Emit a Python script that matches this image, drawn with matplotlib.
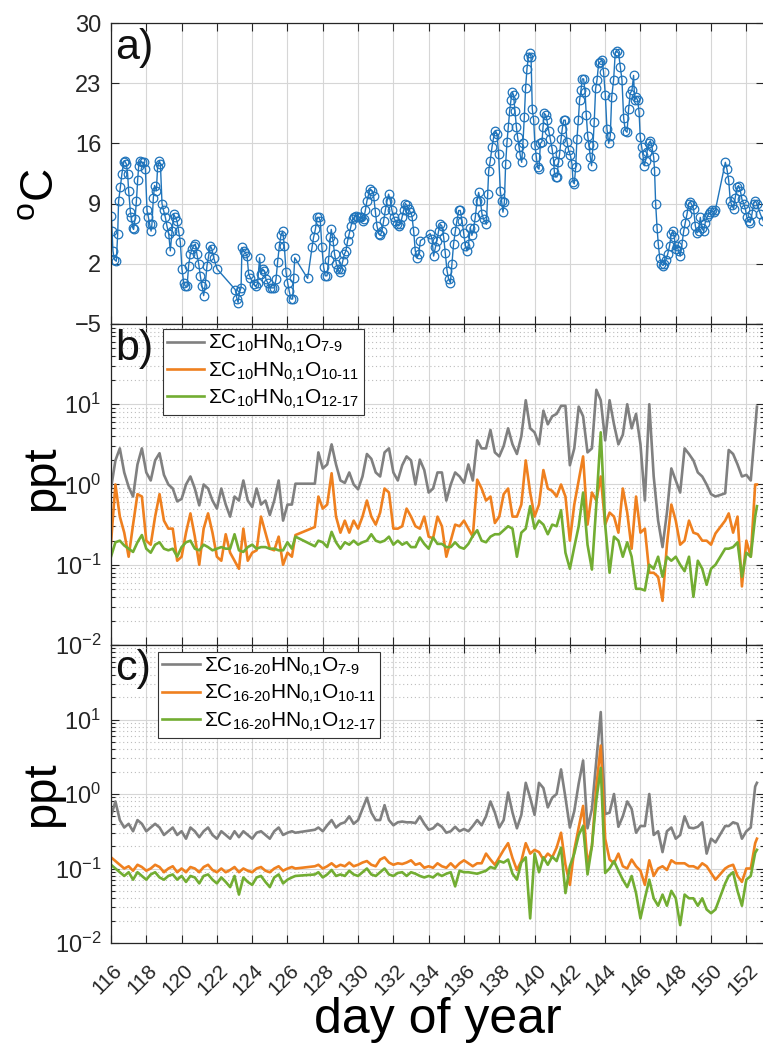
import numpy as np
import matplotlib
matplotlib.use('Agg')
import matplotlib.pyplot as plt
from matplotlib.transforms import ScaledTranslation

plt.rcParams['font.family'] = ['Liberation Sans', 'DejaVu Sans']
plt.rcParams['mathtext.fontset'] = 'custom'
plt.rcParams['mathtext.rm'] = 'Liberation Sans'
plt.rcParams['mathtext.it'] = 'Liberation Sans:italic'
plt.rcParams['mathtext.bf'] = 'Liberation Sans:bold'
plt.rcParams['mathtext.sf'] = 'Liberation Sans'

# ---------------- panel a: temperature ----------------
temp_day = [
    116.02, 116.06, 116.11, 116.19, 116.30, 116.38, 116.43, 116.53, 116.62, 116.72, 116.77, 116.87, 116.94,
    117.00, 117.10, 117.15, 117.23, 117.28, 117.36, 117.44, 117.51, 117.57, 117.66, 117.76, 117.85, 117.95,
    118.04, 118.12, 118.19, 118.27, 118.32, 118.40, 118.47, 118.57, 118.64, 118.74, 118.80, 118.89, 118.98,
    119.08, 119.17, 119.27, 119.36, 119.46, 119.55, 119.64, 119.74, 119.83, 119.93,
    120.02, 120.12, 120.21, 120.31, 120.40, 120.49, 120.59, 120.68, 120.78, 120.87, 120.97,
    121.06, 121.16, 121.25, 121.34, 121.44, 121.53, 121.63, 121.72, 121.82, 122.01,
    123.04, 123.14, 123.20, 123.29, 123.37, 123.42, 123.52, 123.61, 123.71, 123.80, 123.89,
    124.08, 124.23, 124.31, 124.42, 124.50, 124.59, 124.69, 124.78, 124.88, 124.99,
    125.12, 125.25, 125.35, 125.44, 125.54, 125.63, 125.73, 125.82, 125.92,
    126.01, 126.10, 126.20, 126.29, 126.35, 126.41, 127.14, 127.39, 127.48, 127.58, 127.67, 127.77, 127.86, 127.95,
    128.05, 128.14, 128.24, 128.33, 128.43, 128.48, 128.58, 128.67, 128.77, 128.86, 128.96,
    129.03, 129.13, 129.22, 129.31, 129.41, 129.50, 129.60, 129.69, 129.79, 129.88, 129.98,
    130.09, 130.18, 130.26, 130.32, 130.41, 130.50, 130.60, 130.69, 130.79, 130.88, 130.98,
    131.07, 131.17, 131.26, 131.35, 131.45, 131.54, 131.64, 131.73, 131.83, 131.92,
    132.02, 132.11, 132.20, 132.30, 132.39, 132.49, 132.58, 132.68, 132.77, 132.87, 132.96,
    133.05, 133.15, 133.24, 133.34, 133.43, 133.53,
    134.09, 134.19, 134.28, 134.38, 134.47, 134.56, 134.66, 134.75, 134.85, 134.94,
    135.04, 135.13, 135.23, 135.32, 135.41, 135.51, 135.60, 135.70, 135.79, 135.89, 135.98,
    136.08, 136.17, 136.26, 136.36, 136.45, 136.55, 136.64, 136.74, 136.83, 136.93,
    137.02, 137.11, 137.27, 137.34, 137.40, 137.49, 137.59, 137.68, 137.78, 137.87, 137.96,
    138.06, 138.13, 138.21, 138.29, 138.36, 138.44, 138.51, 138.59, 138.66, 138.74, 138.81, 138.89, 138.97,
    139.04, 139.12, 139.19, 139.27, 139.34, 139.42, 139.49, 139.57, 139.65, 139.72, 139.80, 139.87, 139.95,
    140.02, 140.10, 140.17, 140.25, 140.33, 140.42, 140.48, 140.55, 140.63, 140.70, 140.80, 140.89, 140.99,
    141.08, 141.12, 141.19, 141.27, 141.35, 141.42, 141.50, 141.57, 141.65, 141.74, 141.84, 141.93,
    142.03, 142.12, 142.18, 142.25, 142.33, 142.40, 142.48, 142.55, 142.63, 142.70, 142.78, 142.86, 142.93,
    143.01, 143.08, 143.16, 143.23, 143.31, 143.38, 143.46, 143.54, 143.63, 143.72, 143.82, 143.91,
    144.01, 144.10, 144.20, 144.29, 144.37, 144.48, 144.57, 144.67, 144.76, 144.86, 144.95,
    145.05, 145.14, 145.24, 145.33, 145.42, 145.52, 145.61, 145.67, 145.75, 145.84, 145.92, 145.99,
    146.07, 146.14, 146.22, 146.29, 146.37, 146.46, 146.56, 146.65, 146.75, 146.80, 146.86, 146.94,
    147.01, 147.09, 147.18, 147.28, 147.35, 147.45, 147.54, 147.65, 147.75, 147.84, 147.92, 147.99,
    148.07, 148.16, 148.26, 148.35, 148.45, 148.54, 148.64, 148.73, 148.82, 148.92,
    149.01, 149.11, 149.20, 149.30, 149.39, 149.48, 149.58, 149.67, 149.77, 149.86, 149.96,
    150.05, 150.15, 150.24, 150.81, 150.90,
    151.00, 151.09, 151.18, 151.28, 151.37, 151.47, 151.56, 151.66, 151.75, 151.85, 151.94,
    152.03, 152.13, 152.22, 152.32, 152.41, 152.50, 152.60, 152.79, 152.96,
]
temp_c = [
    7.6, 5.8, 3.5, 2.5, 2.3, 5.5, 9.3, 10.9, 12.5, 13.8, 14.0, 13.6, 12.5,
    10.5, 8.0, 7.4, 6.2, 6.0, 7.2, 9.3, 11.7, 13.4, 14.0, 13.8, 13.8, 13.0,
    8.2, 7.4, 6.6, 5.8, 6.6, 9.7, 11.1, 10.5, 13.2, 14.0, 13.6, 9.0, 8.2,
    7.4, 6.4, 5.5, 3.5, 5.8, 7.8, 7.4, 7.0, 5.8, 4.5,
    1.4, -0.2, -0.6, -0.6, 1.8, 3.1, 3.7, 4.1, 4.3, 3.1, 2.0,
    0.6, -0.6, -1.7, -0.4, 1.8, 2.9, 4.1, 3.7, 2.7, 1.4,
    -1.0, -2.1, -2.5, -1.2, -0.8, 3.9, 3.5, 3.3, 2.9, 0.8, 0.4,
    -0.4, -0.6, -0.2, 2.7, 0.8, 1.4, 1.2, 0.2, -0.2, -0.8,
    -0.8, -0.8, 0.2, 2.2, 4.1, 5.3, 5.8, 4.1, 1.0,
    -0.2, -1.2, -2.1, -2.1, 0.4, 2.7, 0.3, 3.9, 5.1, 6.0, 7.4, 7.4, 7.0, 3.9,
    1.6, 0.6, 0.6, 2.5, 5.1, 6.0, 4.7, 3.1, 2.0, 1.4, 1.0,
    1.4, 2.3, 3.1, 3.5, 4.7, 5.5, 6.4, 7.2, 7.4, 7.6, 7.5,
    7.4, 7.4, 7.0, 7.2, 8.2, 9.3, 10.1, 10.7, 10.5, 9.9, 8.0,
    6.4, 5.5, 5.3, 5.8, 7.0, 8.2, 9.3, 10.1, 9.3, 8.2,
    7.4, 7.0, 6.6, 6.4, 6.6, 7.4, 8.2, 9.0, 8.8, 8.4, 8.0,
    7.6, 5.8, 3.5, 2.7, 3.1, 4.7,
    5.5, 4.9, 2.9, 3.9, 4.7, 5.8, 6.6, 6.4, 5.1, 3.3,
    1.2, 0.2, -0.2, 2.0, 4.3, 5.8, 7.0, 8.2, 8.2, 7.0, 5.6,
    4.1, 3.5, 4.3, 6.2, 5.3, 6.2, 7.4, 9.3, 10.3, 9.3,
    7.8, 7.2, 6.6, 10.1, 12.8, 14.0, 15.6, 16.7, 17.5, 17.1, 14.8,
    10.5, 9.3, 8.0, 9.2, 13.6, 16.2, 17.9, 19.8, 21.0, 22.0, 21.6, 19.8, 17.9,
    16.7, 15.6, 14.6, 13.8, 16.0, 19.1, 22.4, 24.7, 26.1, 26.5, 26.1, 20.0, 18.7,
    15.8, 14.4, 13.2, 13.0, 16.0, 16.2, 17.9, 19.5, 19.3, 18.7, 17.5, 16.5, 15.4,
    14.0, 12.7, 12.1, 12.1, 13.8, 14.8, 16.5, 17.7, 18.7, 18.7, 16.2, 15.2,
    14.6, 13.6, 11.5, 11.3, 13.2, 16.5, 18.7, 21.0, 22.2, 23.5, 23.5, 22.0, 19.3,
    16.9, 15.8, 14.4, 13.4, 15.8, 18.5, 22.4, 23.4, 25.3, 25.5, 25.7, 24.3,
    21.6, 17.7, 16.0, 16.9, 21.4, 23.4, 26.5, 26.7, 26.5, 24.9, 23.4,
    18.9, 17.5, 17.3, 20.0, 21.8, 22.2, 23.9, 21.0, 21.4, 21.0, 19.7, 16.7,
    15.6, 14.6, 13.4, 14.0, 15.0, 16.0, 16.3, 15.6, 14.4, 12.8, 9.0, 6.2,
    4.3, 2.7, 2.0, 1.8, 2.0, 2.5, 3.1, 4.1, 5.5, 5.8, 5.1, 3.7,
    4.1, 3.5, 2.9, 4.3, 5.8, 6.8, 7.8, 9.0, 9.2, 8.8,
    8.4, 6.4, 5.6, 5.8, 7.4, 6.2, 5.8, 6.8, 7.4, 7.8, 8.0,
    8.2, 8.0, 8.2, 13.8, 13.0,
    11.7, 9.3, 8.8, 8.4, 9.7, 10.9, 11.1, 10.5, 9.5, 9.0, 8.4,
    7.4, 7.0, 6.8, 7.8, 9.0, 9.3, 9.0, 7.8, 7.0,
]

# ---------------- panels b and c: common time base ----------------
days_bc = [
    116.0, 116.25, 116.5, 116.75, 117.0, 117.25, 117.5, 117.75,
    118.0, 118.25, 118.5, 118.75, 119.0, 119.25, 119.5, 119.75,
    120.0, 120.25, 120.5, 120.75, 121.0, 121.25, 121.5, 121.75,
    122.0, 122.25, 122.5, 122.75, 123.0, 123.25, 123.5, 123.75,
    124.0, 124.25, 124.5, 124.75, 125.0, 125.25, 125.5, 125.75,
    126.0, 126.25, 126.45,
    127.55, 127.75,
    128.0, 128.25, 128.5, 128.75, 129.0, 129.25, 129.5, 129.75,
    130.0, 130.25, 130.5, 130.75, 131.0, 131.25, 131.5, 131.75,
    132.0, 132.25, 132.5, 132.75, 133.0, 133.25, 133.5, 133.75,
    134.0, 134.25, 134.5, 134.75, 135.0, 135.25, 135.5, 135.75,
    136.0, 136.25, 136.5, 136.75, 137.0, 137.25, 137.5, 137.75,
    138.0, 138.25, 138.5, 138.75, 139.0, 139.25, 139.5, 139.75,
    140.0, 140.25, 140.5, 140.75, 141.0, 141.25, 141.5, 141.75,
    142.0, 142.25, 142.5, 142.75, 143.0, 143.25, 143.5, 143.75,
    144.0, 144.25, 144.5, 144.75, 145.0, 145.25, 145.5, 145.75,
    146.0, 146.25, 146.5, 146.75, 147.0, 147.25, 147.5, 147.75,
    148.0, 148.25, 148.5, 148.75, 149.0, 149.25, 149.5, 149.75,
    150.0, 150.25, 150.8,
    151.0, 151.25, 151.5, 151.75, 152.0, 152.25, 152.5, 152.6,
]

# log10(ppt) values, panel b (C10)
b_gray_log10 = [
    -0.05, 0.30, 0.45, 0.15, -0.03, -0.15, 0.25, 0.45,
    0.15, 0.05, 0.30, 0.39, 0.12, 0.0, -0.05, -0.21,
    -0.18, 0.0, 0.10, -0.05, -0.26, 0.0, -0.05, -0.20,
    -0.30, -0.05, -0.25, -0.40, -0.15, -0.20, 0.05, -0.20,
    -0.28, -0.05, -0.25, -0.20, -0.38, -0.20, 0.05, -0.45,
    -0.25, -0.25, 0.01,
    0.01, 0.40,
    0.20, 0.25, 0.50, 0.25, 0.05, 0.02, 0.15, 0.0,
    -0.06, 0.10, 0.38, 0.32, 0.15, 0.10, 0.40, 0.45,
    0.15, 0.05, 0.24, 0.35, 0.30, 0.0, 0.31, 0.18,
    -0.10, -0.05, 0.15, 0.15, -0.20, 0.0, 0.15, 0.10,
    0.02, 0.25, 0.05, 0.55, 0.45, 0.45, 0.68, 0.40,
    0.35, 0.48, 0.70, 0.50, 0.38, 0.60, 1.05, 0.70,
    0.65, 0.50, 0.92, 0.75, 0.85, 0.88, 0.98, 0.98,
    0.24, 0.45, 0.97, 0.85, 0.40, 0.45, 1.18, 1.05,
    0.55, 1.05, 0.75, 0.50, 0.62, 1.0, 0.70, 0.88,
    0.50, -0.20, 1.0, 0.10, -0.45, -0.78, -0.35, 0.20,
    0.05, -0.10, 0.45, 0.38, 0.30, 0.15, 0.10, 0.0,
    -0.12, -0.15, -0.11,
    0.43, 0.38, 0.25, 0.10, 0.12, 0.05, 0.70, 0.97,
]
b_orange_log10 = [
    -0.73, 0.0, -0.40, -0.60, -0.90, -0.50, -0.12, -0.15,
    -0.70, -0.75, -0.40, -0.12, -0.45, -0.55, -0.55, -0.95,
    -0.90, -0.60, -0.36, -0.65, -1.0, -0.55, -0.36, -0.60,
    -0.90, -0.95, -0.62, -0.85, -0.95, -1.05, -0.55, -0.95,
    -0.85, -0.82, -0.40, -0.60, -0.80, -0.82, -0.65, -1.0,
    -0.85, -0.90, -0.63,
    -0.53, -0.15,
    -0.30, -0.25, 0.14, -0.40, -0.60, -0.45, -0.60, -0.45,
    -0.55, -0.40, -0.20, -0.40, -0.50, -0.35, -0.05, -0.10,
    -0.55, -0.55, -0.52, -0.30, -0.40, -0.52, -0.55, -0.40,
    -0.65, -0.67, -0.40, -0.52, -0.90, -0.70, -0.50, -0.52,
    -0.45, -0.55, -0.65, 0.06, -0.05, -0.20, -0.15, -0.48,
    -0.40, -0.12, -0.05, -0.40, -0.40, -0.25, 0.30, -0.10,
    -0.40, -0.25, 0.18, -0.05, -0.08, -0.15, 0.0, -0.15,
    -0.70, -0.25, 0.05, 0.35, -0.50, -0.10, -0.20, 0.10,
    -0.50, -0.35, -0.40, -0.60, -0.05, -0.35, -0.80, -0.15,
    -0.60, -0.55, -1.10, -1.10, -1.15, -1.45, -0.75, -0.25,
    -0.45, -0.75, -0.70, -0.45, -0.60, -0.62, -0.70, -0.70,
    -0.75, -0.61, -0.45,
    -0.36, -0.60, -0.40, -1.27, -0.70, -0.90, 0.0, 0.0,
]
b_green_log10 = [
    -0.90, -0.72, -0.70, -0.76, -0.80, -0.84, -0.72, -0.63,
    -0.80, -0.85, -0.75, -0.72, -0.80, -0.82, -0.80, -0.90,
    -0.78, -0.72, -0.70, -0.80, -0.82, -0.75, -0.78, -0.82,
    -0.80, -0.78, -0.80, -0.80, -0.62, -0.82, -0.84, -0.78,
    -0.75, -0.80, -0.78, -0.78, -0.80, -0.80, -0.82, -0.82,
    -0.72, -0.80, -0.65,
    -0.77, -0.70,
    -0.72, -0.78, -0.59, -0.72, -0.80, -0.72, -0.75, -0.70,
    -0.75, -0.72, -0.70, -0.62, -0.70, -0.72, -0.70, -0.65,
    -0.75, -0.70, -0.75, -0.72, -0.78, -0.78, -0.66, -0.74,
    -0.80, -0.66, -0.74, -0.74, -0.78, -0.78, -0.72, -0.78,
    -0.80, -0.74, -0.64, -0.57, -0.70, -0.72, -0.65, -0.62,
    -0.62, -0.57, -0.52, -0.55, -0.90, -0.60, -0.55, -0.27,
    -0.55, -0.45, -0.50, -0.62, -0.50, -0.52, -0.32, -0.85,
    -1.05, -0.78, -0.52, -0.10, -0.75, -1.06, -0.25, 0.65,
    -0.50, -1.10, -0.65, -0.70, -0.90, -0.72, -0.90, -1.30,
    -1.30, -1.32, -1.00, -1.05, -0.90, -1.15, -0.90, -0.95,
    -0.90, -1.0, -1.08, -0.90, -1.40, -0.95, -1.05, -1.25,
    -1.05, -1.0, -0.80,
    -0.80, -0.78, -0.72, -1.15, -0.85, -0.90, -0.40, -0.27,
]

# log10(ppt) values, panel c (C16-20)
c_gray_log10 = [
    -0.30, -0.10, -0.35, -0.45, -0.40, -0.50, -0.35, -0.40,
    -0.50, -0.45, -0.40, -0.45, -0.55, -0.50, -0.45, -0.55,
    -0.50, -0.60, -0.45, -0.50, -0.58, -0.50, -0.45, -0.55,
    -0.60, -0.50, -0.55, -0.60, -0.50, -0.58, -0.50, -0.55,
    -0.60, -0.52, -0.50, -0.55, -0.60, -0.50, -0.45, -0.55,
    -0.52, -0.50, -0.52,
    -0.48, -0.45,
    -0.50, -0.42, -0.35, -0.45, -0.40, -0.38, -0.30, -0.40,
    -0.35, -0.20, -0.05, -0.25, -0.35, -0.35, -0.15, -0.35,
    -0.42, -0.38, -0.37, -0.38, -0.38, -0.39, -0.30, -0.40,
    -0.48, -0.46, -0.40, -0.44, -0.52, -0.50, -0.44, -0.50,
    -0.47, -0.50, -0.43, -0.35, -0.42, -0.30, -0.10, -0.25,
    -0.45, -0.35, 0.02, -0.25, -0.46, -0.28, 0.15, -0.05,
    -0.28, 0.15, 0.08, -0.18, -0.05, 0.0, 0.33, -0.05,
    -0.45, -0.23, 0.14, 0.45, -0.46, -0.20, 0.45, 1.10,
    -0.27, -0.25, 0.0, -0.44, -0.30, -0.10, -0.20, -0.52,
    -0.43, -0.43, 0.0, -0.55, -0.50, -0.78, -0.50, -0.45,
    -0.60, -0.55, -0.30, -0.45, -0.46, -0.44, -0.38, -0.80,
    -0.60, -0.65, -0.43,
    -0.43, -0.38, -0.40, -0.60, -0.50, -0.45, 0.10, 0.15,
]
c_orange_log10 = [
    -0.85, -0.90, -0.95, -1.00, -0.97, -1.03, -0.95, -0.98,
    -1.03, -1.00, -0.95, -0.98, -1.05, -1.00, -0.97, -1.05,
    -1.00, -1.05, -0.98, -1.00, -1.05, -0.98, -0.95, -1.02,
    -1.05, -1.00, -1.05, -1.02, -0.98, -1.05, -1.00, -1.03,
    -1.05, -1.00, -0.98, -1.03, -1.05, -1.00, -0.97, -1.03,
    -1.00, -0.98, -1.00,
    -0.97, -0.95,
    -1.00, -0.97, -0.93, -0.98, -0.95, -0.97, -0.92, -0.97,
    -0.95, -0.92, -0.90, -0.95, -0.97, -0.88, -0.85, -0.92,
    -0.95, -0.93, -0.94, -0.92, -0.89, -0.95, -0.93, -0.99,
    -0.97, -0.99, -0.93, -0.97, -0.99, -0.93, -0.99, -0.93,
    -0.89, -0.93, -0.97, -0.93, -0.93, -0.80, -0.88, -0.95,
    -0.85, -0.75, -0.66, -0.86, -1.02, -0.90, -0.66, -0.80,
    -0.75, -0.78, -0.88, -0.80, -0.85, -0.72, -0.52, -0.95,
    -1.22, -0.75, -0.45, -0.16, -0.95, -0.70, 0.10, 0.65,
    -0.60, -0.88, -0.93, -0.80, -0.97, -1.00, -0.88, -0.97,
    -1.03, -1.22, -0.89, -1.10, -1.00, -0.97, -1.02, -0.89,
    -0.93, -0.93, -0.93, -0.97, -0.97, -1.00, -0.93, -0.97,
    -1.06, -1.15, -1.00,
    -0.97, -0.95, -1.10, -1.18, -1.00, -1.00, -0.66, -0.60,
]
c_green_log10 = [
    -0.95, -1.00, -1.05, -1.10, -1.05, -1.15, -1.05, -1.10,
    -1.15, -1.08, -1.05, -1.12, -1.15, -1.10, -1.08, -1.15,
    -1.10, -1.18, -1.10, -1.12, -1.20, -1.10, -1.08, -1.15,
    -1.20, -1.12, -1.18, -1.25, -1.10, -1.35, -1.12, -1.18,
    -1.22, -1.12, -1.10, -1.18, -1.25, -1.12, -1.08, -1.20,
    -1.15, -1.12, -1.10,
    -1.08, -1.05,
    -1.12, -1.08, -1.02, -1.10, -1.08, -1.10, -1.03, -1.08,
    -1.10, -1.05, -1.00, -1.08, -1.10, -1.05, -1.00, -1.08,
    -1.10, -1.06, -1.05, -1.10, -1.05, -1.07, -1.10, -1.12,
    -1.10, -1.12, -1.07, -1.10, -1.07, -1.05, -1.24, -1.03,
    -1.05, -1.05, -1.06, -1.07, -1.05, -1.03, -0.98, -1.00,
    -0.90, -0.92, -0.88, -1.07, -1.15, -0.92, -0.85, -1.67,
    -0.80, -1.05, -0.85, -0.95, -0.84, -0.90, -0.72, -1.33,
    -0.97, -0.80, -0.55, -0.43, -1.08, -0.70, -0.08, 0.35,
    -1.06, -1.00, -0.90, -1.03, -1.15, -1.25, -1.10, -1.33,
    -1.67, -1.40, -1.15, -1.40, -1.50, -1.35, -1.50, -1.30,
    -1.40, -1.76, -1.35, -1.40, -1.40, -1.50, -1.40, -1.55,
    -1.60, -1.55, -1.20,
    -1.10, -1.05, -1.30, -1.50, -1.15, -1.10, -0.79, -0.75,
]

x_ticks = [116, 118, 120, 122, 124, 126, 128, 130, 132, 134, 136, 138, 140, 142, 144, 146, 148, 150, 152]
x_tick_labels = [str(v) for v in x_ticks]
a_yticks = [-5, 2, 9, 16, 23, 30]
log_ticks = [1e-2, 1e-1, 1e0, 1e1, 1e2]
log_tick_labels = ['$10^{-2}$', '$10^{-1}$', '$10^{0}$', '$10^{1}$', '']

labels_b = [r'ΣC$_{10}$HN$_{0{,}1}$O$_{7\text{-}9}$',
            r'ΣC$_{10}$HN$_{0{,}1}$O$_{10\text{-}11}$',
            r'ΣC$_{10}$HN$_{0{,}1}$O$_{12\text{-}17}$']
labels_c = [r'ΣC$_{16\text{-}20}$HN$_{0{,}1}$O$_{7\text{-}9}$',
            r'ΣC$_{16\text{-}20}$HN$_{0{,}1}$O$_{10\text{-}11}$',
            r'ΣC$_{16\text{-}20}$HN$_{0{,}1}$O$_{12\text{-}17}$']

BLUE = '#1f74bb'
GRAY = '#808080'
ORANGE = '#ef801f'
GREEN = '#72ad32'
GRIDC = '#d6d6d6'

W, H = 763, 1046
fig = plt.figure(figsize=(W / 100, H / 100), dpi=100)
left = 111 / W
width = (764 - 111) / W
axA = fig.add_axes([left, 1 - 324 / H, width, (324 - 23) / H])
axB = fig.add_axes([left, 1 - 645 / H, width, (645 - 324) / H])
axC = fig.add_axes([left, 1 - 943 / H, width, (943 - 645) / H])

# panel a
axA.plot(temp_day, temp_c, '-o', color=BLUE, lw=1.0, ms=6.2, mfc='none', mew=0.9)
axA.set_ylim(-5, 30)
axA.set_yticks(a_yticks)

# panels b, c
dbc = np.array(days_bc)
for ax, series, labels in [
    (axB, [b_gray_log10, b_orange_log10, b_green_log10], labels_b),
    (axC, [c_gray_log10, c_orange_log10, c_green_log10], labels_c),
]:
    for vals, col, lab in zip(series, [GRAY, ORANGE, GREEN], labels):
        ax.plot(dbc, 10 ** np.array(vals), color=col, lw=1.9, label=lab)
    ax.set_yscale('log')
    ax.set_ylim(1e-2, 1e2)
    ax.set_yticks(log_ticks)
    ax.set_yticklabels(log_tick_labels)
    ax.yaxis.grid(True, which='minor', ls=(0, (1, 2.5)), color='#bdbdbd', lw=0.8)

for ax in (axA, axB, axC):
    ax.set_xlim(116, 153)
    ax.set_xticks(x_ticks)
    ax.set_axisbelow(True)
    ax.grid(True, which='major', color=GRIDC, lw=0.8)
    ax.tick_params(which='both', direction='in', top=True, right=True, width=0.8,
                   labelsize=17, pad=7, colors='#262626')
    ax.tick_params(which='major', length=6)
    ax.tick_params(which='minor', length=3)
    for s in ax.spines.values():
        s.set_color('#262626')
        s.set_linewidth(0.9)

axA.tick_params(labelbottom=False)
axB.tick_params(labelbottom=False)
axC.set_xticklabels(x_tick_labels, rotation=45, ha='center', va='top', fontsize=15)
axC.tick_params(axis='x', pad=13)
shift = ScaledTranslation(-4 / 100, 0, fig.dpi_scale_trans)
for t in axC.get_xticklabels():
    t.set_transform(t.get_transform() + shift)

# labels
axA.set_ylabel(r'$^{\mathregular{o}}$C', fontsize=33)
axA.yaxis.set_label_coords(-0.074, 0.43)
axB.set_ylabel('ppt', fontsize=34)
axB.yaxis.set_label_coords(-0.072, 0.52)
axC.set_ylabel('ppt', fontsize=34)
axC.yaxis.set_label_coords(-0.072, 0.50)
axC.set_xlabel('day of year', fontsize=36)
axC.xaxis.set_label_coords(0.5, -0.182)

for ax, lab in [(axA, 'a)'), (axB, 'b)'), (axC, 'c)')]:
    ax.text(0.006, 0.985, lab, transform=ax.transAxes, fontsize=31, va='top', ha='left', color='#111111')

leg_kw = dict(loc='upper left', fontsize=15, frameon=True, fancybox=False, edgecolor='#333333',
              framealpha=1, handlelength=1.8, handletextpad=0.2, borderpad=0.2,
              labelspacing=0.2, borderaxespad=0)
legB = axB.legend(bbox_to_anchor=(0.079, 0.985), **leg_kw)
legB.get_frame().set_linewidth(0.8)
legC = axC.legend(bbox_to_anchor=(0.072, 0.978), **leg_kw)
legC.get_frame().set_linewidth(0.8)

fig.savefig('out.png', dpi=100)
